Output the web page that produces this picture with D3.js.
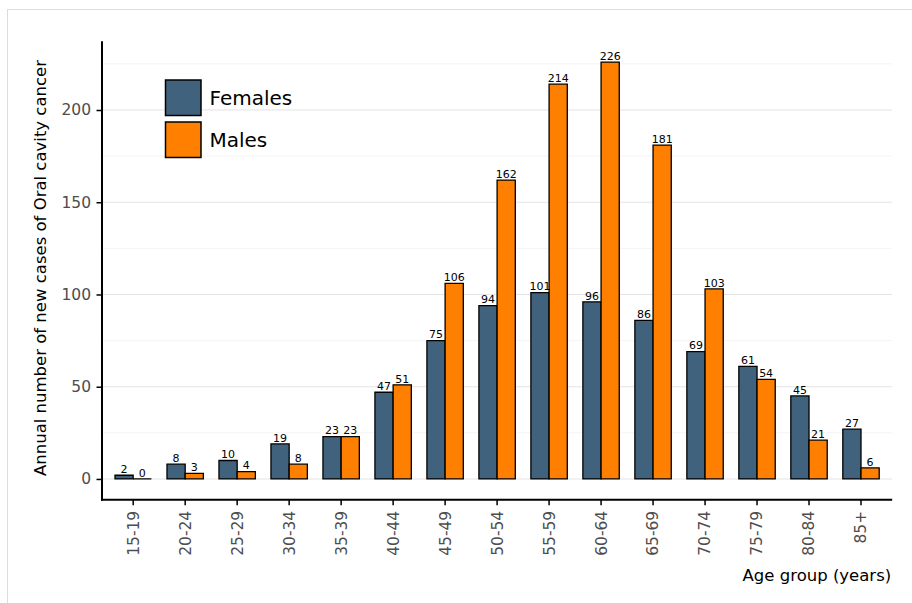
<!DOCTYPE html>
<html>
<head>
<meta charset="utf-8">
<script src="https://cdn.jsdelivr.net/npm/d3@7"></script>
<style>
  html, body { margin: 0; padding: 0; background: #fff; }
  svg { display: block; font-family: "DejaVu Sans", sans-serif; }
</style>
</head>
<body>
<svg id="chart" width="912" height="603"></svg>
<script>
const ageGroups = ["15-19","20-24","25-29","30-34","35-39","40-44","45-49","50-54","55-59","60-64","65-69","70-74","75-79","80-84","85+"];
const females = [2, 8, 10, 19, 23, 47, 75, 94, 101, 96, 86, 69, 61, 45, 27];
const males   = [0, 3, 4, 8, 23, 51, 106, 162, 214, 226, 181, 103, 54, 21, 6];
const seriesNames = ["Females", "Males"];
const seriesColors = ["#40627c", "#ff8000"];
const yMajorTicks = [0, 50, 100, 150, 200];
const yMinorTicks = [25, 75, 125, 175, 225];

const svg = d3.select("#chart");

// outer frame
svg.append("rect").attr("x", 7.5).attr("y", 9.5).attr("width", 920).attr("height", 620)
  .attr("fill", "none").attr("stroke", "#dcdcdc").attr("stroke-width", 1);

const pLeft = 102, pRight = 892.2, pTop = 41.2, pBottom = 499.8;

const x = d3.scaleBand().domain(ageGroups).range([pLeft, pRight]).paddingInner(0.3).paddingOuter(0.25);
const xs = d3.scaleBand().domain(seriesNames).range([0, x.bandwidth()]);
const y = d3.scaleLinear().domain([-11.3, 237.3]).range([pBottom, pTop]);

// gridlines
svg.append("g").selectAll("line").data(yMinorTicks).join("line")
  .attr("x1", pLeft).attr("x2", pRight).attr("y1", d => y(d)).attr("y2", d => y(d))
  .attr("stroke", "#f4f4f4").attr("stroke-width", 1);
svg.append("g").selectAll("line").data(yMajorTicks).join("line")
  .attr("x1", pLeft).attr("x2", pRight).attr("y1", d => y(d)).attr("y2", d => y(d))
  .attr("stroke", "#e4e4e4").attr("stroke-width", 1.1);

const data = [];
ageGroups.forEach((g, i) => {
  data.push({ g, s: "Females", v: females[i], c: seriesColors[0] });
  data.push({ g, s: "Males", v: males[i], c: seriesColors[1] });
});

// bars (path so zero-height bars still show their outline)
svg.append("g").selectAll("path").data(data).join("path")
  .attr("d", d => {
    const x0 = x(d.g) + xs(d.s), x1 = x0 + xs.bandwidth();
    const yb = y(0), yt = y(d.v);
    return `M${x0},${yb}L${x0},${yt}L${x1},${yt}L${x1},${yb}Z`;
  })
  .attr("fill", d => d.c)
  .attr("stroke", "#000").attr("stroke-width", 1.3);

// bar labels
svg.append("g").selectAll("text").data(data).join("text")
  .attr("x", d => x(d.g) + xs(d.s) + xs.bandwidth() / 2)
  .attr("y", d => y(d.v) - 2.3)
  .attr("text-anchor", "middle")
  .attr("font-size", 11)
  .attr("fill", "#000")
  .text(d => d.v);

// y axis
const yAxis = svg.append("g").attr("transform", `translate(${pLeft},0)`)
  .call(d3.axisLeft(y).tickValues(yMajorTicks).tickSize(5.5).tickPadding(5.5));
yAxis.select(".domain").remove();
yAxis.selectAll(".tick line").attr("stroke", "#000").attr("stroke-width", 1.5);
yAxis.selectAll(".tick text").attr("font-size", 15.5).attr("fill", "#4d4d4d")
  .attr("font-family", "DejaVu Sans, sans-serif");
svg.append("line").attr("x1", pLeft).attr("x2", pLeft).attr("y1", pTop).attr("y2", pBottom + 1)
  .attr("stroke", "#000").attr("stroke-width", 2);

// x axis
const xAxis = svg.append("g").attr("transform", `translate(0,${pBottom})`)
  .call(d3.axisBottom(x).tickSize(5.5).tickPadding(4));
xAxis.select(".domain").remove();
xAxis.selectAll(".tick line").attr("stroke", "#000").attr("stroke-width", 1.5);
xAxis.selectAll(".tick text")
  .attr("font-size", 15.5).attr("fill", "#4d4d4d")
  .attr("font-family", "DejaVu Sans, sans-serif")
  .attr("transform", "rotate(-90)")
  .attr("text-anchor", "end")
  .attr("x", -11).attr("y", 0).attr("dy", "0.35em");
svg.append("line").attr("x1", pLeft - 1).attr("x2", pRight).attr("y1", pBottom).attr("y2", pBottom)
  .attr("stroke", "#000").attr("stroke-width", 2);

// axis titles
svg.append("text")
  .attr("transform", `translate(45.5,268) rotate(-90)`)
  .attr("text-anchor", "middle").attr("font-size", 16.5).attr("fill", "#000")
  .text("Annual number of new cases of Oral cavity cancer");
svg.append("text")
  .attr("x", pRight - 1).attr("y", 581)
  .attr("text-anchor", "end").attr("font-size", 16.5).attr("fill", "#000")
  .text("Age group (years)");

// legend
const legend = svg.append("g");
seriesNames.forEach((s, i) => {
  const ky = 80 + i * 42;
  legend.append("rect").attr("x", 165.5).attr("y", ky).attr("width", 35.5).attr("height", 35.5)
    .attr("fill", seriesColors[i]).attr("stroke", "#000").attr("stroke-width", 1.5);
  legend.append("text").attr("x", 209.5).attr("y", ky + 17.75).attr("dy", "0.36em")
    .attr("font-size", 20).attr("fill", "#000").text(s);
});
</script>
</body>
</html>
